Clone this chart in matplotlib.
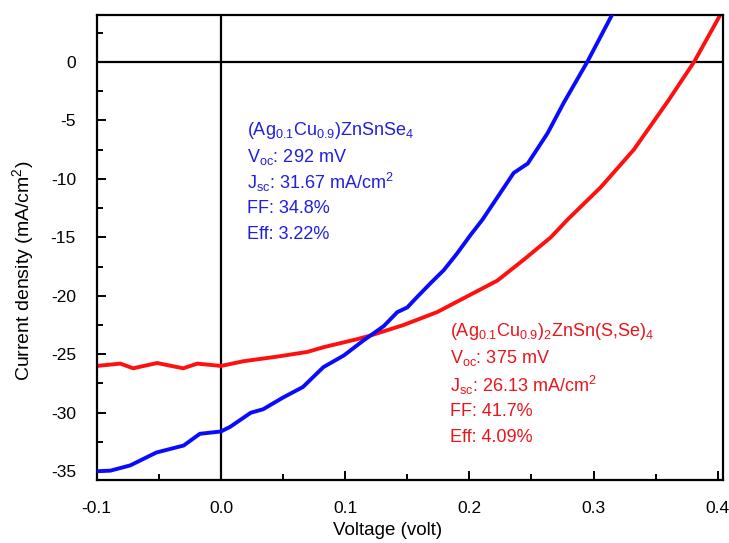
import matplotlib
matplotlib.use("Agg")
import matplotlib.pyplot as plt
from matplotlib.ticker import MultipleLocator, FormatStrFormatter

plt.rcParams['font.family'] = ['Liberation Sans', 'DejaVu Sans']
plt.rcParams['mathtext.fontset'] = 'custom'
plt.rcParams['mathtext.rm'] = 'Liberation Sans'
plt.rcParams['mathtext.it'] = 'Liberation Sans'
plt.rcParams['mathtext.bf'] = 'Liberation Sans:bold'
plt.rcParams['axes.unicode_minus'] = False

# Blue: (Ag0.1Cu0.9)ZnSnSe4
blue_v = [-0.100, -0.089, -0.073, -0.052, -0.030, -0.017, 0.000, 0.0075, 0.024, 0.034,
          0.050, 0.066, 0.0825, 0.099, 0.115, 0.1204, 0.131, 0.142, 0.150, 0.158,
          0.169, 0.1795, 0.190, 0.201, 0.2105, 0.225, 0.2357, 0.247, 0.263, 0.276,
          0.295, 0.3153]
blue_j = [-35.0, -34.95, -34.5, -33.4, -32.8, -31.8, -31.6, -31.2, -30.0, -29.7,
          -28.7, -27.8, -26.1, -25.1, -23.8, -23.4, -22.6, -21.4, -21.0, -20.1,
          -18.9, -17.8, -16.4, -14.8, -13.5, -11.2, -9.5, -8.7, -6.1, -3.5,
          0.0, 4.1]

# Red: (Ag0.1Cu0.9)2ZnSn(S,Se)4
red_v = [-0.100, -0.081, -0.0707, -0.0514, -0.0304, -0.019, 0.000, 0.018, 0.0454, 0.0696,
         0.0825, 0.110, 0.1204, 0.147, 0.174, 0.201, 0.2226, 0.244, 0.2656, 0.279,
         0.306, 0.3325, 0.3603, 0.381, 0.4025]
red_j = [-26.0, -25.8, -26.2, -25.75, -26.2, -25.8, -26.0, -25.6, -25.2, -24.8,
         -24.4, -23.7, -23.4, -22.5, -21.4, -19.9, -18.7, -16.9, -15.0, -13.5,
         -10.7, -7.5, -3.3, 0.0, 4.1]

blue_text = [r'(Ag$_{0.1}$Cu$_{0.9}$)ZnSnSe$_4$',
             r'V$_{oc}$: 292 mV',
             r'J$_{sc}$: 31.67 mA/cm$^2$',
             'FF: 34.8%',
             'Eff: 3.22%']
red_text = [r'(Ag$_{0.1}$Cu$_{0.9}$)$_2$ZnSn(S,Se)$_4$',
            r'V$_{oc}$: 375 mV',
            r'J$_{sc}$: 26.13 mA/cm$^2$',
            'FF: 41.7%',
            'Eff: 4.09%']

x_ticks = [-0.1, 0.0, 0.1, 0.2, 0.3, 0.4]
y_ticks = [0, -5, -10, -15, -20, -25, -30, -35]

fig = plt.figure(figsize=(7.29, 5.43), dpi=100)
ax = fig.add_axes([0.1327, 0.116, 0.9914 - 0.1327, 0.9724 - 0.116])

ax.axhline(0, color='black', lw=1.6, zorder=1)
ax.axvline(0, color='black', lw=1.6, zorder=1)

ax.plot(blue_v, blue_j, color='#0a0aff', lw=2.8, zorder=3)
ax.plot(red_v, red_j, color='#ff1010', lw=2.8, zorder=2)

ax.set_xlim(-0.1, 0.404)
ax.set_ylim(-35.75, 4.0)
ax.set_xticks(x_ticks)
ax.set_yticks(y_ticks)
ax.xaxis.set_major_formatter(FormatStrFormatter('%.1f'))
ax.xaxis.set_minor_locator(MultipleLocator(0.05))
ax.yaxis.set_minor_locator(MultipleLocator(2.5))
ax.tick_params(which='both', direction='in', top=False, right=False,
               labelsize=12.5, width=1.4, pad=15)
ax.tick_params(which='major', length=6.5)
ax.tick_params(which='minor', length=4)
for s in ax.spines.values():
    s.set_linewidth(1.6)

ax.set_xlabel('Voltage (volt)', fontsize=13.5, va='center')
ax.xaxis.set_label_coords(0.465, -0.1075)
ax.set_ylabel(r'Current density (mA/cm$^2$)', fontsize=14, va='center')
ax.yaxis.set_label_coords(-0.118, 0.449)

for i, t in enumerate(blue_text):
    fig.text(247 / 729, 1 - (131 + 25.8 * i) / 543, t, color='#1f1fe0',
             fontsize=13, va='center', ha='left')
for i, t in enumerate(red_text):
    fig.text(450 / 729, 1 - (332 + 26.5 * i) / 543, t, color='#e8161c',
             fontsize=13, va='center', ha='left')

fig.savefig('out.png', dpi=100)
